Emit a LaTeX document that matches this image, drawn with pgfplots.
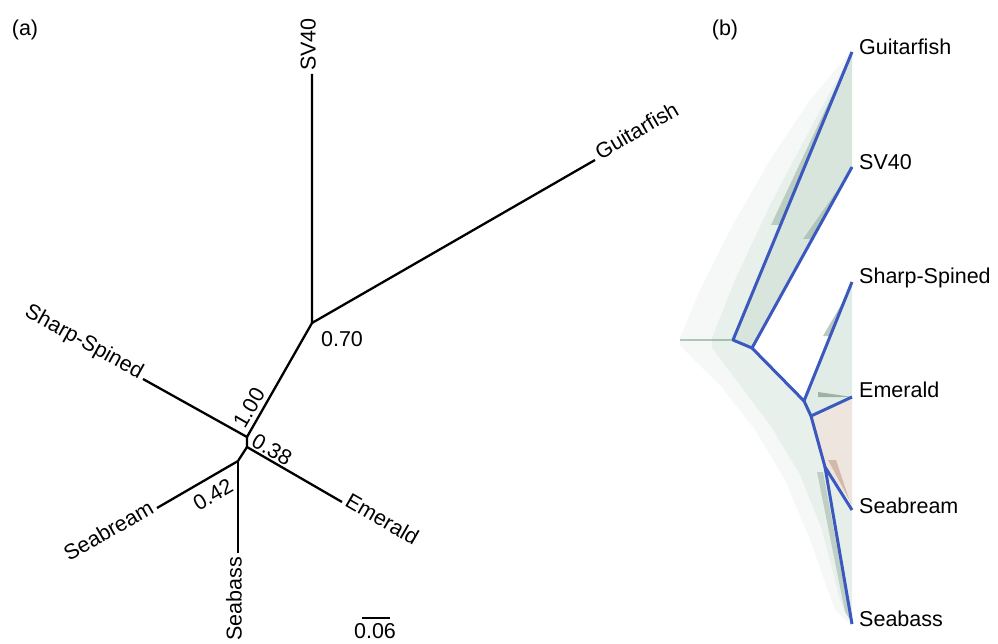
\documentclass[border=0pt]{standalone}
\usepackage{pgfplots}
\pgfplotsset{compat=1.18}
\usepackage{fontspec}
\setmainfont{Liberation Sans}
\definecolor{treeblue}{RGB}{58,88,190}
\definecolor{haze}{RGB}{60,125,85}
\definecolor{hazedark}{RGB}{25,75,45}
\definecolor{brownhaze}{RGB}{140,70,30}
\newcommand\lbl{\fontsize{21.5}{25}\selectfont}
\begin{document}
\begin{tikzpicture}
\begin{axis}[x=1pt,y=1pt,y dir=reverse,xmin=0,xmax=998,ymin=0,ymax=644,
  hide axis,clip=false,scale only axis]
% ---------------- panel (a) ----------------
\addplot[black,line width=2.3pt,line join=round] coordinates {(312,74) (312,323) (595,160)};
\addplot[black,line width=2.3pt,line join=round] coordinates {(312,323) (247,437) (143,379)};
\addplot[black,line width=2.3pt,line join=round] coordinates {(247,437) (247,447) (342,502)};
\addplot[black,line width=2.3pt,line join=round] coordinates {(247,447) (238,461) (157,508)};
\addplot[black,line width=2.3pt,line join=round] coordinates {(238,461) (238,553)};
% scale bar
\addplot[black,line width=2.3pt] coordinates {(362,618) (390,618)};
\node[font=\lbl] at (axis cs:25,30) {(a)};
\node[font=\lbl,rotate=90,anchor=mid west,inner sep=0] at (axis cs:313,71) {SV40};
\node[font=\lbl,rotate=30,anchor=mid west,inner sep=0] at (axis cs:599,158) {Guitarfish};
\node[font=\lbl,rotate=-29,anchor=mid east,inner sep=0] at (axis cs:140,377) {Sharp-Spined};
\node[font=\lbl,rotate=-30,anchor=mid west,inner sep=0] at (axis cs:345,503) {Emerald};
\node[font=\lbl,rotate=30,anchor=mid east,inner sep=0] at (axis cs:154,510) {Seabream};
\node[font=\lbl,rotate=90,anchor=mid east,inner sep=0] at (axis cs:239,557) {Seabass};
\node[font=\lbl] at (axis cs:342,339) {0.70};
\node[font=\lbl,rotate=60] at (axis cs:249,408) {1.00};
\node[font=\lbl,rotate=-30] at (axis cs:272,450) {0.38};
\node[font=\lbl,rotate=30] at (axis cs:213,495) {0.42};
\node[font=\lbl,inner sep=0] at (axis cs:375,631) {0.06};
% ---------------- panel (b) ----------------
% haze (cloud of sampled trees)
\addplot[draw=none,fill=haze,fill opacity=0.05] coordinates {(680,338) (700,290) (730,230) (770,160) (810,100) (852,50) (733,340) (752,348) (804,401) (811,416) (825,467) (852,626) (835,610) (810,540) (785,480) (755,430) (720,385) (690,356) (680,345)} -- cycle;
\addplot[draw=none,fill=haze,fill opacity=0.07] coordinates {(712,338) (735,280) (770,205) (815,120) (852,52) (733,340) (752,348) (804,401) (811,416) (825,467) (852,626) (840,600) (822,530) (800,475) (772,428) (740,385) (712,348)} -- cycle;
\addplot[draw=none,fill=haze,fill opacity=0.2] coordinates {(733,340) (852,52) (852,167) (752,348)} -- cycle;
\addplot[draw=none,fill=hazedark,fill opacity=0.22] coordinates {(850,55) (781,225) (771,225) (843,72)} -- cycle;
\addplot[draw=none,fill=hazedark,fill opacity=0.2] coordinates {(851,169) (812,239) (803,239) (846,178)} -- cycle;
\addplot[draw=none,fill=haze,fill opacity=0.15] coordinates {(804,401) (852,282) (852,397) (811,416)} -- cycle;
\addplot[draw=none,fill=hazedark,fill opacity=0.3] coordinates {(851,284) (830,336) (823,336) (848,293)} -- cycle;
\addplot[draw=none,fill=hazedark,fill opacity=0.35] coordinates {(852,397) (818,392) (818,397)} -- cycle;
\addplot[draw=none,fill=brownhaze,fill opacity=0.14] coordinates {(811,416) (852,399) (852,505) (825,467)} -- cycle;
\addplot[draw=none,fill=brownhaze,fill opacity=0.28] coordinates {(828,460) (851,503) (852,508) (836,460)} -- cycle;
\addplot[draw=none,fill=haze,fill opacity=0.13] coordinates {(825,467) (852,510) (852,624)} -- cycle;
\addplot[draw=none,fill=hazedark,fill opacity=0.2] coordinates {(823,472) (851,621) (845,612) (817,472)} -- cycle;
\addplot[haze,opacity=0.4,line width=2pt] coordinates {(680,340) (733,340)};
% consensus tree
\addplot[treeblue,line width=3pt,line join=round] coordinates {(852,52) (733,340) (752,348) (852,167)};
\addplot[treeblue,line width=3pt,line join=round] coordinates {(752,348) (804,401) (852,282)};
\addplot[treeblue,line width=3pt,line join=round] coordinates {(804,401) (811,416) (852,397)};
\addplot[treeblue,line width=3pt,line join=round] coordinates {(811,416) (825,467) (852,510)};
\addplot[treeblue,line width=3pt,line join=round] coordinates {(825,467) (852,624)};
\node[font=\lbl] at (axis cs:725,30) {(b)};
\node[font=\lbl,anchor=mid west,inner sep=0] at (axis cs:859,52) {Guitarfish};
\node[font=\lbl,anchor=mid west,inner sep=0] at (axis cs:859,167) {SV40};
\node[font=\lbl,anchor=mid west,inner sep=0] at (axis cs:859,281) {Sharp-Spined};
\node[font=\lbl,anchor=mid west,inner sep=0] at (axis cs:859,395) {Emerald};
\node[font=\lbl,anchor=mid west,inner sep=0] at (axis cs:859,511) {Seabream};
\node[font=\lbl,anchor=mid west,inner sep=0] at (axis cs:859,624) {Seabass};
\end{axis}
\pgfresetboundingbox
\useasboundingbox (0,0) rectangle (998pt,644pt);
\end{tikzpicture}
\end{document}
